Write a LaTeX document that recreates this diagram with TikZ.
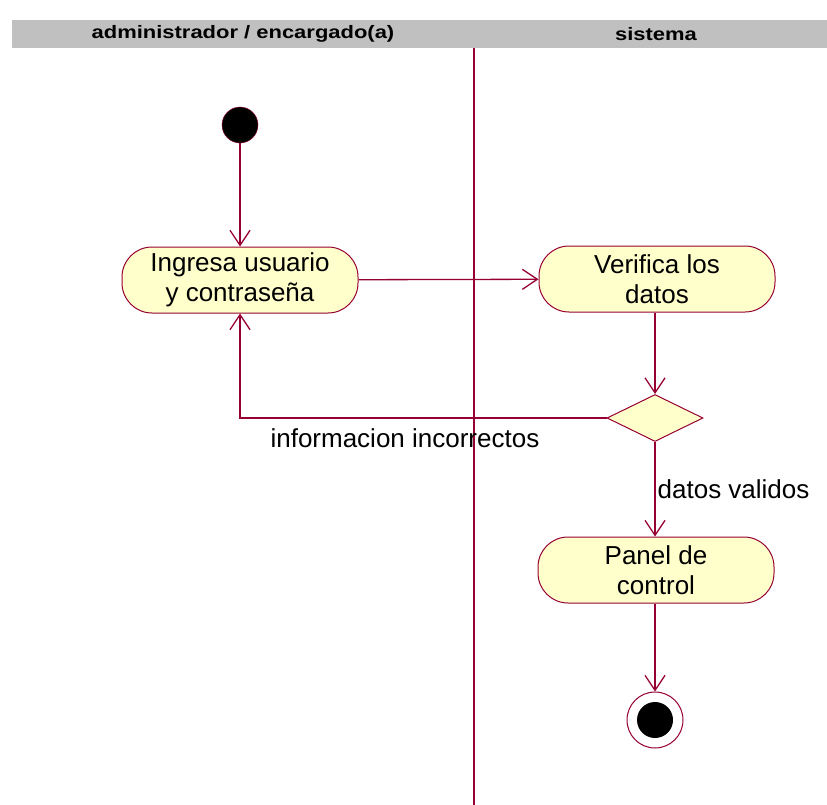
\documentclass[tikz,border=0pt]{standalone}
\usepackage{fontspec}
\setmainfont{Liberation Sans}
\usetikzlibrary{shapes.geometric}
\usetikzlibrary{arrows.meta}
\usetikzlibrary{positioning}
\definecolor{linea}{RGB}{150,0,50}
\definecolor{crema}{RGB}{255,255,204}
\definecolor{cabecera}{RGB}{192,192,192}
\tikzset{
	inicio/.style={circle, fill=black, draw=linea, thin, minimum size=36pt, inner sep=0pt},
	fin/.style={circle, fill=white, draw=linea, line width=1pt, minimum size=56pt, inner sep=0pt,
		path picture={\fill[black] (path picture bounding box.center) circle (18pt);}},
	decision/.style={diamond, draw=linea, fill=crema, line width=1pt, minimum width=96pt, minimum height=47pt, inner sep=0pt, aspect=2},
	actividad/.style={rectangle, draw=linea, fill=crema, line width=1pt, rounded corners=30pt, align=center,
		minimum width=236pt, minimum height=66pt, font=\fontsize{26}{30}\selectfont},
	carril/.style={font=\fontsize{18}{20}\selectfont\bfseries},
	flecha/.style={draw=linea, line width=1.3pt, -{Straight Barb[length=15pt,width=20pt,line width=1.3pt]}},
	etiqueta/.style={font=\fontsize{26}{30}\selectfont, inner sep=0pt}
}
\begin{document}
\begin{tikzpicture}[x=1pt, y=-1pt]
\useasboundingbox (0,0) rectangle (827,805);

% carriles
\fill[cabecera] (12,20) rectangle (827,48);
\node[carril] (admin) at (243,34) {\scalebox{1.22}[1]{administrador / encargado(a)}};
\node[carril] (sistema) at (656,34) {\scalebox{1.22}[1]{sistema}};
\draw[linea, line width=1.3pt] (474,48) -- (474,805);

\node[inicio] (inicio) at (240,125) {};

\node[actividad] (ingresa) at (240,280)
	{Ingresa usuario\\y contraseña};

\node[actividad] (verifica) at (657,279)
	{Verifica los\\datos};

\node[decision] (valida) at (655,418) {};

\node[actividad] (panel) at (656,570)
	{Panel de\\control};

\node[fin] (fin) at (655,720) {};

\draw [flecha] (inicio) -- (ingresa);
\draw [flecha] (ingresa) -- (verifica);
\draw [flecha] (verifica.south -| valida.north) -- (valida);
\draw [flecha] (valida.west) -| (ingresa.south)
	node[etiqueta, pos=0.275, below=10pt] (incorrectos) {informacion incorrectos};
\draw [flecha] (valida.south) -- (panel.north -| valida.south)
	node[etiqueta, midway, right=2pt] (validos) {datos validos};
\draw [flecha] (panel.south -| fin.north) -- (fin);

\end{tikzpicture}
\end{document}
